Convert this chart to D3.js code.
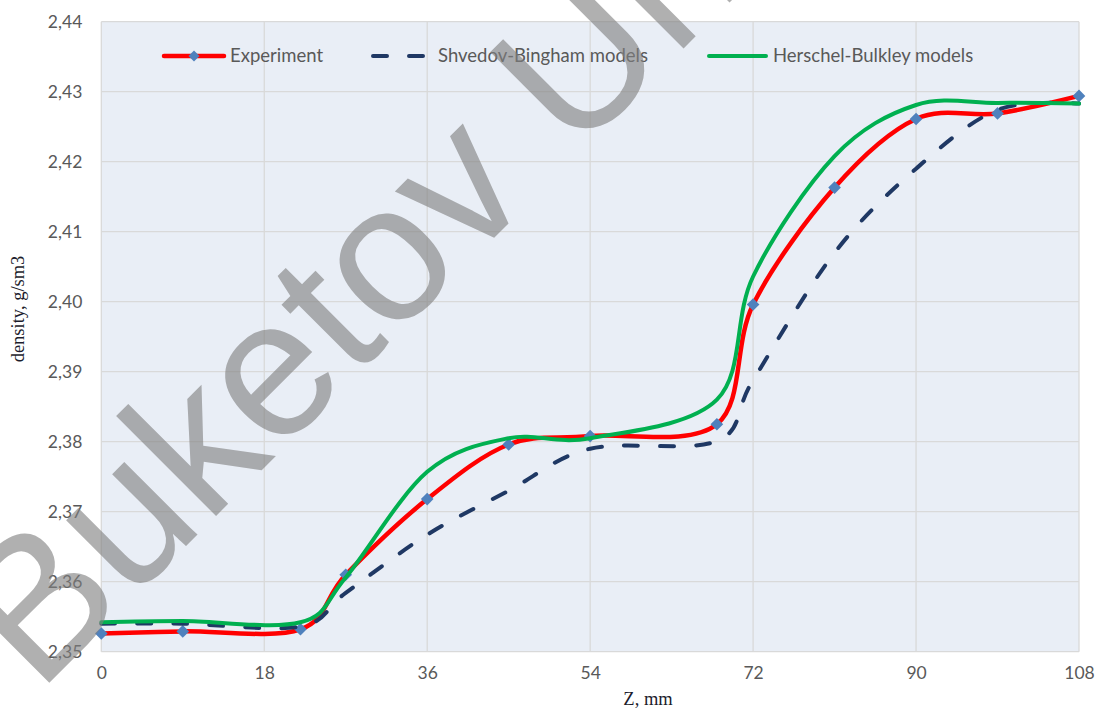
<!DOCTYPE html>
<html>
<head>
<meta charset="utf-8">
<script src="https://cdn.jsdelivr.net/npm/d3@7"></script>
<style>
  html, body { margin: 0; padding: 0; background: #fff; }
  svg { display: block; }
</style>
</head>
<body>
<div id="chart"></div>
<script>
// positions along the sample, mm
const zPositions = [0, 9, 22, 27, 36, 45, 54, 68, 72, 81, 90, 99, 108];
// density, g/sm3
const experiment = [2.3526, 2.3529, 2.3532, 2.3610, 2.3718, 2.3796, 2.3808, 2.3825, 2.3996, 2.4163, 2.4261, 2.4269, 2.4294];
const shvedovBingham = [2.3540, 2.3540, 2.3536, 2.3584, 2.3667, 2.3730, 2.3790, 2.3801, 2.3888, 2.4070, 2.4190, 2.4274, 2.4283];
const herschelBulkley = [2.3542, 2.3544, 2.3542, 2.3606, 2.3757, 2.3805, 2.3805, 2.3860, 2.4036, 2.4208, 2.4281, 2.4284, 2.4283];

const xTicks = [0, 18, 36, 54, 72, 90, 108];
const yTicks = [2.35, 2.36, 2.37, 2.38, 2.39, 2.40, 2.41, 2.42, 2.43, 2.44];
const seriesNames = ["Experiment", "Shvedov-Bingham models", "Herschel-Bulkley models"];

const width = 1097, height = 709;
const plot = {left: 101.3, right: 1079, top: 21.7, bottom: 651.7};
const labelFont = "Lato, 'Open Sans', sans-serif";

const svg = d3.select("#chart").append("svg")
    .attr("width", width)
    .attr("height", height);

const x = d3.scaleLinear().domain([0, 108]).range([plot.left, plot.right]);
const y = d3.scaleLinear().domain([2.35, 2.44]).range([plot.bottom, plot.top]);

const comma = d3.formatLocale({decimal: ",", thousands: " ", grouping: [3], currency: ["", ""]});
const fmt = comma.format(".2f");

// plot area
svg.append("rect")
    .attr("x", plot.left).attr("y", plot.top)
    .attr("width", plot.right - plot.left).attr("height", plot.bottom - plot.top)
    .attr("fill", "#e9eef6");

// grid
const grid = svg.append("g").attr("stroke", "#d9d9d9").attr("stroke-width", 1.3);
grid.selectAll("line.h").data(yTicks).join("line")
    .attr("x1", plot.left).attr("x2", plot.right)
    .attr("y1", d => y(d)).attr("y2", d => y(d));
grid.selectAll("line.v").data(xTicks).join("line")
    .attr("y1", plot.top).attr("y2", plot.bottom)
    .attr("x1", d => x(d)).attr("x2", d => x(d));

// axes (labels only, no domain line)
const yAxis = svg.append("g")
    .attr("transform", `translate(${plot.left},0)`)
    .call(d3.axisLeft(y).tickValues(yTicks).tickFormat(fmt).tickSize(0).tickPadding(19));
const xAxis = svg.append("g")
    .attr("transform", `translate(0,${plot.bottom})`)
    .call(d3.axisBottom(x).tickValues(xTicks).tickSize(0).tickPadding(15));
[yAxis, xAxis].forEach(ax => {
  ax.select(".domain").remove();
  ax.selectAll("text")
      .attr("fill", "#595959")
      .style("font-family", labelFont)
      .style("font-size", "17.5px");
});

// axis titles
svg.append("text")
    .attr("transform", "translate(24,309) rotate(-90)")
    .attr("text-anchor", "middle")
    .attr("fill", "#1c1c2c")
    .style("font-family", "'Liberation Serif', 'DejaVu Serif', serif")
    .style("font-size", "18.5px")
    .text("density, g/sm3");
svg.append("text")
    .attr("x", 648).attr("y", 705)
    .attr("text-anchor", "middle")
    .attr("fill", "#1c1c2c")
    .style("font-family", "'Liberation Serif', 'DejaVu Serif', serif")
    .style("font-size", "18.5px")
    .text("Z, mm");

// series
const line = d3.line()
    .x((d, i) => x(zPositions[i]))
    .y(d => y(d))
    .curve(d3.curveCardinal.tension(0));

const styles = [
  {color: "#ff0000", width: 4.5, dash: null},
  {color: "#1f3864", width: 4, dash: "14,22"},
  {color: "#00b050", width: 4, dash: null}
];
const allSeries = [experiment, shvedovBingham, herschelBulkley];

const lines = svg.append("g").attr("fill", "none");
allSeries.forEach((s, k) => {
  lines.append("path")
      .datum(s)
      .attr("d", line)
      .attr("stroke", styles[k].color)
      .attr("stroke-width", styles[k].width)
      .attr("stroke-linecap", "round")
      .attr("stroke-dasharray", styles[k].dash);
  if (k === 0) {
    lines.append("g").selectAll("path")
        .data(experiment).join("path")
        .attr("d", d3.symbol(d3.symbolSquare, 80))
        .attr("transform", (d, i) => `translate(${x(zPositions[i])},${y(d)}) rotate(45)`)
        .attr("fill", "#4f81bd");
  }
});

// legend
const legendItems = [
  {x1: 162, x2: 226, tx: 230},
  {x1: 371, x2: 428, tx: 438},
  {x1: 707, x2: 768, tx: 773}
];
const legend = svg.append("g").attr("transform", "translate(0,56)");
legendItems.forEach((it, k) => {
  legend.append("line")
      .attr("x1", it.x1 + 2).attr("x2", it.x2 - 2)
      .attr("stroke", styles[k].color)
      .attr("stroke-width", styles[k].width)
      .attr("stroke-linecap", "round")
      .attr("stroke-dasharray", k === 1 ? "14,22" : null);
  if (k === 0) {
    legend.append("path")
        .attr("d", d3.symbol(d3.symbolSquare, 60))
        .attr("transform", `translate(${(it.x1 + it.x2) / 2},0) rotate(45)`)
        .attr("fill", "#4f81bd");
  }
  legend.append("text")
      .attr("x", it.tx).attr("y", 0)
      .attr("dy", "0.35em")
      .attr("fill", "#595959")
      .style("font-family", labelFont)
      .style("font-size", "18.5px")
      .text(seriesNames[k]);
});

// watermark
svg.append("text")
    .attr("transform", "translate(38,694) rotate(-45)")
    .attr("fill", "#7f7f7f")
    .attr("fill-opacity", 0.62)
    .style("font-family", "'Liberation Sans', Arial, sans-serif")
    .style("font-size", "195px")
    .text("Buketov Uni");
</script>
</body>
</html>
